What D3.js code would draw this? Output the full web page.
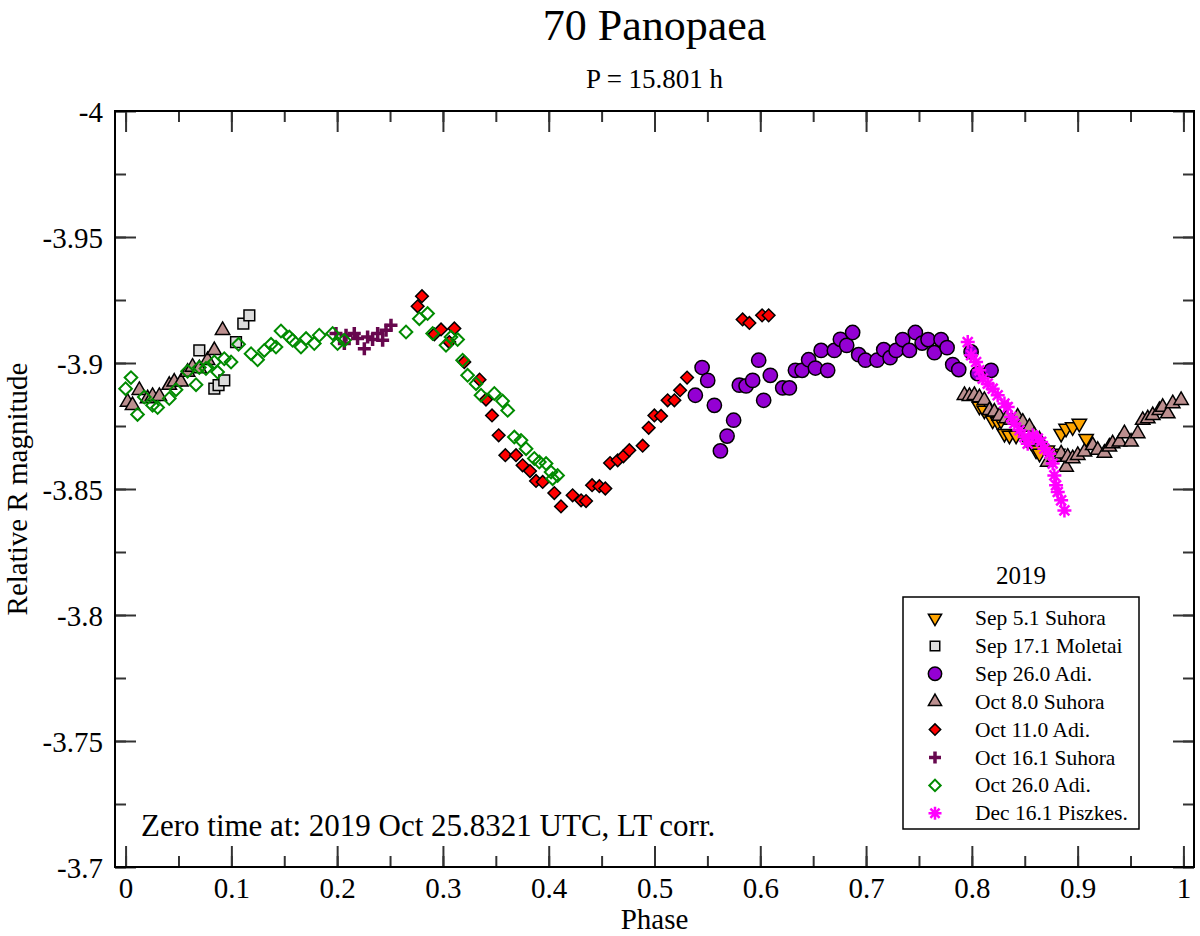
<!doctype html>
<html lang="en">
<head>
<meta charset="utf-8">
<title>70 Panopaea</title>
<script src="https://d3js.org/d3.v7.min.js"></script>
<style>
  body { margin: 0; background: #fff; }
  text { font-family: "Liberation Serif", "Times New Roman", serif; fill: #000; }
</style>
</head>
<body>
<svg id="chart" width="1200" height="936"></svg>
<script>
// data, [phase, relative R magnitude]
var sep5Suhora = [[0.8071,-3.8828],[0.8118,-3.8812],[0.8197,-3.8773],[0.8245,-3.8767],[0.8276,-3.8773],[0.8308,-3.8720],
  [0.8355,-3.8713],[0.8418,-3.8713],[0.8513,-3.8700],[0.8560,-3.8687],[0.8607,-3.8654],[0.8640,-3.8641],[0.8714,-3.8654],
  [0.8812,-3.8641],[0.8844,-3.8720],[0.8891,-3.8740],[0.8953,-3.8746],[0.9016,-3.8760],[0.9080,-3.8700]];
var sep17Moletai = [[0.0697,-3.9050],[0.0839,-3.8898],[0.0879,-3.8912],[0.0933,-3.8931],[0.1044,-3.9083],[0.1113,-3.9156],[0.1170,-3.9189]];
var sep26Adi = [[0.5386,-3.8872],[0.5450,-3.8982],[0.5503,-3.8931],[0.5566,-3.8832],[0.5623,-3.8651],[0.5686,-3.8710],
  [0.5748,-3.8773],[0.5802,-3.8912],[0.5866,-3.8909],[0.5928,-3.8931],[0.5985,-3.9011],[0.6032,-3.8852],[0.6095,-3.8951],
  [0.6212,-3.8901],[0.6275,-3.8901],[0.6332,-3.8971],[0.6395,-3.8971],[0.6457,-3.9013],[0.6521,-3.8980],[0.6575,-3.9050],
  [0.6637,-3.8971],[0.6700,-3.9050],[0.6757,-3.9094],[0.6817,-3.9070],[0.6873,-3.9121],[0.6930,-3.9033],[0.6994,-3.9011],
  [0.7104,-3.9011],[0.7167,-3.9053],[0.7227,-3.9021],[0.7284,-3.9050],[0.7346,-3.9093],[0.7410,-3.9050],[0.7466,-3.9121],
  [0.7530,-3.9079],[0.7586,-3.9093],[0.7646,-3.9041],[0.7709,-3.9093],[0.7766,-3.9061],[0.7819,-3.8994],[0.7876,-3.8974],
  [0.7993,-3.9044],[0.8055,-3.8958],[0.8182,-3.8971]];
var oct8Suhora = [[0.0019,-3.8845],[0.0066,-3.8832],[0.0130,-3.8892],[0.0208,-3.8859],[0.0255,-3.8868],[0.0319,-3.8868],
  [0.0413,-3.8912],[0.0460,-3.8925],[0.0524,-3.8925],[0.0586,-3.8964],[0.0633,-3.8984],[0.0697,-3.8978],[0.0775,-3.9011],
  [0.0839,-3.9050],[0.0917,-3.9130],
  [0.7930,-3.8872],[0.7977,-3.8868],[0.8024,-3.8872],[0.8071,-3.8863],[0.8118,-3.8852],[0.8166,-3.8812],[0.8213,-3.8806],
  [0.8260,-3.8789],[0.8324,-3.8779],[0.8371,-3.8773],[0.8433,-3.8786],[0.8481,-3.8766],[0.8544,-3.8746],[0.8591,-3.8713],
  [0.8638,-3.8696],[0.8717,-3.8607],[0.8780,-3.8627],[0.8844,-3.8640],[0.8891,-3.8587],[0.8906,-3.8627],[0.8953,-3.8621],
  [0.9001,-3.8634],[0.9064,-3.8647],[0.9143,-3.8673],[0.9190,-3.8654],[0.9253,-3.8643],[0.9300,-3.8667],[0.9331,-3.8680],
  [0.9395,-3.8687],[0.9442,-3.8720],[0.9505,-3.8687],[0.9568,-3.8720],[0.9615,-3.8773],[0.9663,-3.8779],[0.9710,-3.8792],
  [0.9773,-3.8812],[0.9804,-3.8825],[0.9852,-3.8799],[0.9899,-3.8839],[0.9978,-3.8852]];
var oct11Adi = [[0.2802,-3.9265],[0.2761,-3.9225],[0.2919,-3.9114],[0.2982,-3.9133],[0.3108,-3.9137],[0.3060,-3.9083],
  [0.3202,-3.9004],[0.3346,-3.8934],[0.3407,-3.8855],[0.3464,-3.8792],[0.3527,-3.8713],[0.3590,-3.8634],[0.3691,-3.8634],
  [0.3753,-3.8594],[0.3823,-3.8571],[0.3880,-3.8532],[0.3943,-3.8528],[0.4053,-3.8484],[0.4116,-3.8431],[0.4226,-3.8475],
  [0.4306,-3.8455],[0.4353,-3.8452],[0.4410,-3.8515],[0.4479,-3.8511],[0.4535,-3.8502],[0.4580,-3.8603],[0.4652,-3.8614],
  [0.4706,-3.8630],[0.4762,-3.8654],[0.4888,-3.8672],[0.4945,-3.8743],[0.4999,-3.8792],[0.5062,-3.8790],[0.5124,-3.8852],
  [0.5188,-3.8852],[0.5242,-3.8892],[0.5308,-3.8942],[0.5833,-3.9173],[0.5897,-3.9159],[0.6017,-3.9189],[0.6079,-3.9189]];
var oct16Suhora = [[0.1989,-3.9117],[0.2068,-3.9077],[0.2084,-3.9110],[0.2162,-3.9117],[0.2193,-3.9097],[0.2257,-3.9057],
  [0.2288,-3.9103],[0.2335,-3.9093],[0.2383,-3.9117],[0.2430,-3.9090],[0.2462,-3.9130],[0.2509,-3.9150]];
var oct26Adi = [[0.0051,-3.8942],[0.0000,-3.8898],[0.0113,-3.8796],[0.0177,-3.8865],[0.0255,-3.8832],[0.0303,-3.8823],
  [0.0413,-3.8859],[0.0477,-3.8894],[0.0586,-3.8967],[0.0666,-3.8914],[0.0697,-3.8982],[0.0760,-3.8978],[0.0839,-3.9004],
  [0.0870,-3.8964],[0.0933,-3.9017],[0.0997,-3.9004],[0.1068,-3.9074],[0.1186,-3.9037],[0.1248,-3.9013],[0.1311,-3.9050],
  [0.1375,-3.9074],[0.1422,-3.9063],[0.1469,-3.9127],[0.1548,-3.9103],[0.1579,-3.9090],[0.1658,-3.9063],[0.1706,-3.9097],
  [0.1784,-3.9077],[0.1831,-3.9110],[0.1957,-3.9117],[0.2004,-3.9077],[0.2068,-3.9090],[0.2651,-3.9123],[0.2777,-3.9176],
  [0.2855,-3.9196],[0.2903,-3.9117],[0.3029,-3.9070],[0.3076,-3.9103],[0.3139,-3.9093],[0.3186,-3.9011],[0.3233,-3.8951],
  [0.3313,-3.8918],[0.3360,-3.8872],[0.3486,-3.8879],[0.3564,-3.8849],[0.3612,-3.8812],[0.3675,-3.8706],[0.3738,-3.8693],
  [0.3786,-3.8660],[0.3864,-3.8621],[0.3911,-3.8607],[0.3975,-3.8601],[0.4022,-3.8567],[0.4084,-3.8554],[0.4037,-3.8541]];
var dec16Piszkes = [[0.7961,-3.9083],[0.7993,-3.9031],[0.8040,-3.9004],[0.8071,-3.8971],[0.8103,-3.8938],[0.8150,-3.8918],
  [0.8197,-3.8898],[0.8244,-3.8872],[0.8308,-3.8839],[0.8339,-3.8825],[0.8371,-3.8786],[0.8402,-3.8760],[0.8450,-3.8733],
  [0.8497,-3.8706],[0.8528,-3.8680],[0.8575,-3.8713],[0.8623,-3.8700],[0.8655,-3.8687],[0.8686,-3.8660],[0.8733,-3.8640],
  [0.8764,-3.8601],[0.8780,-3.8554],[0.8796,-3.8515],[0.8812,-3.8488],[0.8844,-3.8455],[0.8875,-3.8415]];

var seriesNames = ["Sep 5.1 Suhora", "Sep 17.1 Moletai", "Sep 26.0 Adi.", "Oct 8.0 Suhora",
  "Oct 11.0 Adi.", "Oct 16.1 Suhora", "Oct 26.0 Adi.", "Dec 16.1 Piszkes."];
var seriesData = [sep5Suhora, sep17Moletai, sep26Adi, oct8Suhora, oct11Adi, oct16Suhora, oct26Adi, dec16Piszkes];
var xTicks = [0, 0.1, 0.2, 0.3, 0.4, 0.5, 0.6, 0.7, 0.8, 0.9, 1];
var yTicks = [-4, -3.95, -3.9, -3.85, -3.8, -3.75, -3.7];

var plotL = 115, plotR = 1194, plotT = 111, plotB = 867;

var svg = d3.select('#chart');

var x = d3.scaleLinear().domain([-0.01, 1.01]).range([plotL, plotR]);
var y = d3.scaleLinear().domain([-4, -3.7]).range([plotT, plotB]);

// marker shapes, grace style
function cross(r) {
  return 'M' + (-r) + ',0H' + r + 'M0,' + (-r) + 'V' + r;
}
function star(r) {
  var d = r * 0.7071;
  return cross(r) + 'M' + (-d) + ',' + (-d) + 'L' + d + ',' + d + 'M' + (-d) + ',' + d + 'L' + d + ',' + (-d);
}
var styles = [
  { path: d3.symbol(d3.symbolTriangle, 90)(), rot: 180, fill: '#ffa500', stroke: '#000', sw: 1.5 },
  { path: d3.symbol(d3.symbolSquare, 115)(), rot: 0, fill: '#dcdcdc', stroke: '#000', sw: 1.5 },
  { path: d3.symbol(d3.symbolCircle, 160)(), rot: 0, fill: '#9400d3', stroke: '#000', sw: 1.5 },
  { path: d3.symbol(d3.symbolTriangle, 90)(), rot: 0, fill: '#bc8f8f', stroke: '#000', sw: 1.5 },
  { path: d3.symbol(d3.symbolSquare, 80)(), rot: 45, fill: '#ff0000', stroke: '#000', sw: 1.5 },
  { path: cross(6.5), rot: 0, fill: 'none', stroke: '#67074e', sw: 3.5 },
  { path: d3.symbol(d3.symbolSquare, 80)(), rot: 45, fill: 'none', stroke: '#008b00', sw: 2 },
  { path: star(7), rot: 0, fill: 'none', stroke: '#ff00ff', sw: 2.5 }
];
var legendPaths = [
  d3.symbol(d3.symbolTriangle, 75)(),
  d3.symbol(d3.symbolSquare, 90)(),
  d3.symbol(d3.symbolCircle, 140)(),
  d3.symbol(d3.symbolTriangle, 75)(),
  d3.symbol(d3.symbolSquare, 65)(),
  cross(6),
  d3.symbol(d3.symbolSquare, 65)(),
  star(6.5)
];

// points
var plot = svg.append('g');
seriesData.forEach(function(data, i) {
  var st = styles[i];
  plot.append('g')
    .selectAll('path')
    .data(data)
    .enter()
    .append('path')
    .attr('d', st.path)
    .attr('transform', function(d) {
      return 'translate(' + x(d[0]) + ',' + y(d[1]) + ') rotate(' + st.rot + ')';
    })
    .attr('fill', st.fill)
    .attr('stroke', st.stroke)
    .attr('stroke-width', st.sw);
});

// axes, ticks inward on all four sides
var fmt = function(d) { return String(+d.toFixed(2)); };
var xMinor = d3.range(0, 1.001, 0.05);
var yMinor = d3.range(-4, -3.699, 0.025);

function tickGroup(axis, tx) {
  return svg.append('g').attr('transform', tx).call(axis)
    .call(function(g) { g.select('.domain').remove(); });
}
// minor
tickGroup(d3.axisBottom(x).tickValues(xMinor).tickSize(-11).tickFormat(''), 'translate(0,' + plotB + ')');
tickGroup(d3.axisTop(x).tickValues(xMinor).tickSize(-11).tickFormat(''), 'translate(0,' + plotT + ')');
tickGroup(d3.axisLeft(y).tickValues(yMinor).tickSize(-11).tickFormat(''), 'translate(' + plotL + ',0)');
tickGroup(d3.axisRight(y).tickValues(yMinor).tickSize(-11).tickFormat(''), 'translate(' + plotR + ',0)');
// major
var xb = tickGroup(d3.axisBottom(x).tickValues(xTicks).tickSize(-21).tickFormat(fmt), 'translate(0,' + plotB + ')');
tickGroup(d3.axisTop(x).tickValues(xTicks).tickSize(-21).tickFormat(''), 'translate(0,' + plotT + ')');
var yl = tickGroup(d3.axisLeft(y).tickValues(yTicks).tickSize(-21).tickFormat(fmt), 'translate(' + plotL + ',0)');
tickGroup(d3.axisRight(y).tickValues(yTicks).tickSize(-21).tickFormat(''), 'translate(' + plotR + ',0)');

svg.selectAll('.tick line').attr('stroke', '#333').attr('stroke-width', 2);
xb.selectAll('text').attr('font-size', 29).attr('font-family', 'Liberation Serif').attr('dy', 0).attr('y', 31).attr('fill', '#000');
yl.selectAll('text').attr('font-size', 29).attr('font-family', 'Liberation Serif').attr('dy', '0.35em').attr('x', -12).attr('fill', '#000');

// frame
svg.append('rect')
  .attr('x', plotL).attr('y', plotT)
  .attr('width', plotR - plotL).attr('height', plotB - plotT)
  .attr('fill', 'none').attr('stroke', '#000').attr('stroke-width', 2);

// titles
svg.append('text').attr('x', (plotL + plotR) / 2).attr('y', 40)
  .attr('text-anchor', 'middle').attr('font-size', 44).text('70 Panopaea');
svg.append('text').attr('x', (plotL + plotR) / 2).attr('y', 88)
  .attr('text-anchor', 'middle').attr('font-size', 27).text('P = 15.801 h');
svg.append('text').attr('x', (plotL + plotR) / 2).attr('y', 929)
  .attr('text-anchor', 'middle').attr('font-size', 29).text('Phase');
svg.append('text').attr('transform', 'translate(27,' + ((plotT + plotB) / 2) + ') rotate(-90)')
  .attr('text-anchor', 'middle').attr('font-size', 29).text('Relative R magnitude');
svg.append('text').attr('x', 141).attr('y', 836)
  .attr('font-size', 31).text('Zero time at: 2019 Oct 25.8321 UTC, LT corr.');

// legend
var lg = svg.append('g');
lg.append('text').attr('x', 1021).attr('y', 584).attr('text-anchor', 'middle').attr('font-size', 25).text('2019');
lg.append('rect').attr('x', 903).attr('y', 597).attr('width', 236).attr('height', 232)
  .attr('fill', '#fff').attr('stroke', '#000').attr('stroke-width', 1.5);
var rows = lg.selectAll('g.row')
  .data(seriesNames)
  .enter()
  .append('g')
  .attr('class', 'row')
  .attr('transform', function(d, i) { return 'translate(935,' + (618 + i * 27.9) + ')'; });
rows.append('path')
  .attr('d', function(d, i) { return legendPaths[i]; })
  .attr('transform', function(d, i) { return 'rotate(' + styles[i].rot + ')'; })
  .attr('fill', function(d, i) { return styles[i].fill; })
  .attr('stroke', function(d, i) { return styles[i].stroke; })
  .attr('stroke-width', function(d, i) { return styles[i].sw; });
rows.append('text')
  .attr('x', 40).attr('y', 7)
  .attr('font-size', 21.5)
  .text(function(d) { return d; });
</script>
</body>
</html>
